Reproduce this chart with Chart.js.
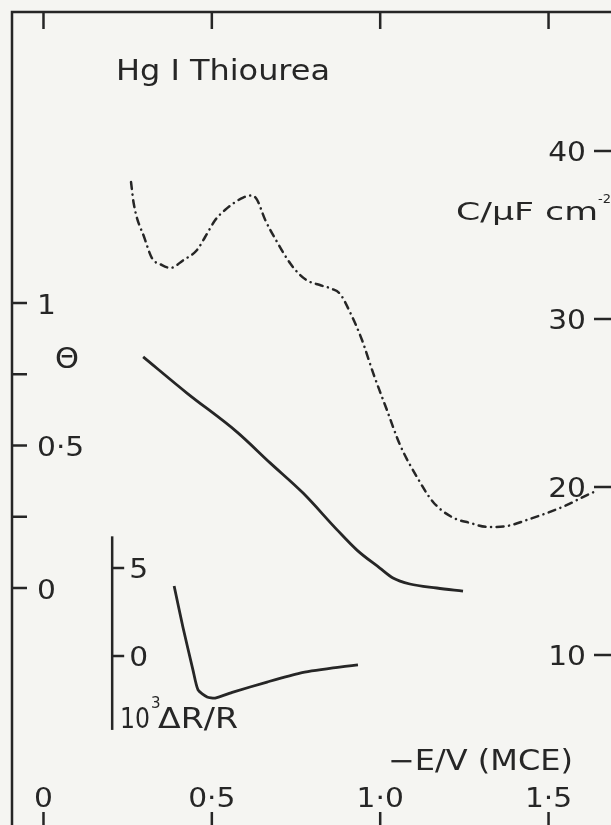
<!DOCTYPE html>
<html>
<head>
<meta charset="utf-8">
<script src="https://cdn.jsdelivr.net/npm/chart.js@4.4.1/dist/chart.umd.min.js"></script>
<style>
  html, body { margin: 0; padding: 0; background: #f5f5f2; overflow: hidden; }
  canvas { display: block; }
</style>
</head>
<body>
<canvas id="chart" width="611" height="825"></canvas>
<script>
// Hg | thiourea: differential capacity, coverage and reflectance change vs -E/V (MCE)

// capacity curve (dash-dot), C / uF cm^-2
const capE = [0.260, 0.268, 0.301, 0.322, 0.352, 0.377, 0.416, 0.456, 0.480, 0.510, 0.539, 0.563, 0.593,
              0.619, 0.634, 0.658, 0.693, 0.732, 0.762, 0.786, 0.821, 0.857, 0.881, 0.910, 0.946, 0.979,
              1.020, 1.059, 1.109, 1.157, 1.213, 1.267, 1.320, 1.377, 1.436, 1.495, 1.555, 1.602, 1.647];
const capC = [38.15, 36.87, 34.76, 33.63, 33.21, 33.04, 33.51, 34.11, 34.88, 35.89, 36.49, 36.87, 37.23,
              37.35, 37.11, 35.92, 34.61, 33.33, 32.62, 32.26, 32.02, 31.79, 31.49, 30.42, 28.75, 26.79,
              24.58, 22.50, 20.60, 19.11, 18.21, 17.86, 17.62, 17.68, 18.04, 18.45, 18.93, 19.40, 19.82];

// coverage curve (solid), theta
const thetaE = [0.296, 0.426, 0.575, 0.673, 0.771, 0.872, 0.931, 0.999, 1.038, 1.088, 1.168, 1.246];
const thetaV = [0.811, 0.684, 0.547, 0.439, 0.333, 0.204, 0.133, 0.070, 0.035, 0.014, 0.000, -0.011];

// reflectance inset (solid), 10^3 dR/R
const refE = [0.388, 0.414, 0.444, 0.459, 0.486, 0.510, 0.563, 0.664, 0.762, 0.860, 0.934];
const refV = [3.98, 1.65, -0.80, -1.93, -2.33, -2.39, -2.05, -1.48, -0.97, -0.68, -0.51];

// ticks
const eTicks = [0, 0.5, 1.0, 1.5];
const eTickLabels = ['0', '0·5', '1·0', '1·5'];
const thetaTicks = [0, 0.25, 0.5, 0.75, 1];
const thetaTickLabels = ['0', '', '0·5', '', '1'];
const capTicks = [10, 20, 30, 40];
const capTickLabels = ['10', '20', '30', '40'];
const refTicks = [0, 5];
const refTickLabels = ['0', '5'];

const INK = '#262626';
const FONT = '"DejaVu Sans"';

const pts = (xs, ys) => xs.map((x, i) => ({ x: x, y: ys[i] }));

// text with its cap height centred on y, stretched sideways a little
function label(ctx, str, x, y, size, align, sx) {
  sx = sx || 1.1;
  ctx.save();
  ctx.font = size + 'px ' + FONT;
  ctx.textAlign = 'left';
  ctx.textBaseline = 'alphabetic';
  const w = ctx.measureText(str).width * sx;
  const left = align === 'center' ? x - w / 2 : align === 'right' ? x - w : x;
  ctx.translate(left, y + size * 0.36);
  ctx.scale(sx, 1);
  ctx.fillText(str, 0, 0);
  ctx.restore();
  return w;
}

// text squeezed or stretched to a given width
function fitLabel(ctx, str, x, y, size, width) {
  ctx.save();
  ctx.font = size + 'px ' + FONT;
  const w = ctx.measureText(str).width;
  ctx.restore();
  label(ctx, str, x, y, size, 'left', width / w);
}

const axesPlugin = {
  id: 'axesPlugin',
  afterDatasetsDraw(chart) {
    const { ctx, chartArea: a, scales } = chart;
    const sx = scales.x, sT = scales.yTheta, sC = scales.yC, sR = scales.yR;
    ctx.save();
    ctx.strokeStyle = INK;
    ctx.fillStyle = INK;
    ctx.lineWidth = 2.5;

    // frame, left and top
    ctx.beginPath();
    ctx.moveTo(a.left + 1, a.bottom);
    ctx.lineTo(a.left + 1, a.top + 1);
    ctx.lineTo(a.right, a.top + 1);
    ctx.stroke();

    // E ticks, top and bottom
    eTicks.forEach((v, i) => {
      const px = sx.getPixelForValue(v);
      ctx.beginPath();
      ctx.moveTo(px, a.top);
      ctx.lineTo(px, a.top + 18);
      ctx.moveTo(px, a.bottom - 13);
      ctx.lineTo(px, a.bottom);
      ctx.stroke();
      label(ctx, eTickLabels[i], px, a.bottom - 28, 27, 'center');
    });

    // theta ticks on the left
    thetaTicks.forEach((v, i) => {
      const py = sT.getPixelForValue(v);
      ctx.beginPath();
      ctx.moveTo(a.left, py);
      ctx.lineTo(a.left + 16, py);
      ctx.stroke();
      if (thetaTickLabels[i]) label(ctx, thetaTickLabels[i], a.left + 26, py + 1, 27, 'left');
    });

    // capacity ticks on the right
    capTicks.forEach((v, i) => {
      const py = sC.getPixelForValue(v);
      ctx.beginPath();
      ctx.moveTo(a.right - 17, py);
      ctx.lineTo(a.right, py);
      ctx.stroke();
      label(ctx, capTickLabels[i], a.right - 25, py, 27, 'right');
    });

    // inset axis for the reflectance curve
    const ix = sx.getPixelForValue(0.204);
    ctx.beginPath();
    ctx.moveTo(ix, sR.getPixelForValue(6.8));
    ctx.lineTo(ix, sR.getPixelForValue(-4.2));
    ctx.stroke();
    refTicks.forEach((v, i) => {
      const py = sR.getPixelForValue(v);
      ctx.beginPath();
      ctx.moveTo(ix, py);
      ctx.lineTo(ix + 12, py);
      ctx.stroke();
      label(ctx, refTickLabels[i], ix + 17, py, 27, 'left');
    });

    // axis titles
    label(ctx, 'Θ', 67, sT.getPixelForValue(0.81), 29, 'center', 1.05);
    fitLabel(ctx, '10', 120, 718, 28, 30);
    label(ctx, '3', 151, 703, 15, 'left', 1.0);
    fitLabel(ctx, 'ΔR/R', 158, 718, 28, 80);
    fitLabel(ctx, '−E/V (MCE)', 388, 760, 28, 185);
    fitLabel(ctx, 'C/μF cm', 456, 211, 24, 142);
    label(ctx, '-2', 598, 198, 13, 'left', 1.0);
    fitLabel(ctx, 'Hg I Thiourea', 116, 70, 28, 214);
    ctx.restore();
  }
};

new Chart(document.getElementById('chart'), {
  type: 'line',
  data: {
    datasets: [
      {
        data: pts(capE, capC),
        yAxisID: 'yC',
        borderColor: INK,
        borderWidth: 2.5,
        borderDash: [7, 5.5, 0.1, 5.5],
        borderCapStyle: 'round',
        pointRadius: 0,
        cubicInterpolationMode: 'monotone'
      },
      {
        data: pts(thetaE, thetaV),
        yAxisID: 'yTheta',
        borderColor: INK,
        borderWidth: 2.8,
        pointRadius: 0,
        cubicInterpolationMode: 'monotone'
      },
      {
        data: pts(refE, refV),
        yAxisID: 'yR',
        borderColor: INK,
        borderWidth: 2.8,
        pointRadius: 0,
        tension: 0.2
      }
    ]
  },
  options: {
    responsive: false,
    animation: false,
    layout: { padding: { left: 11, top: 11, right: 0, bottom: 0 } },
    plugins: { legend: { display: false }, tooltip: { enabled: false } },
    scales: {
      x: { type: 'linear', min: -0.0965, max: 1.6855, display: false },
      yTheta: { type: 'linear', min: -0.8316, max: 2.0246, display: false },
      yC: { type: 'linear', min: -0.119, max: 48.333, display: false },
      yR: { type: 'linear', min: -9.602, max: 36.648, display: false }
    }
  },
  plugins: [axesPlugin]
});
</script>
</body>
</html>
